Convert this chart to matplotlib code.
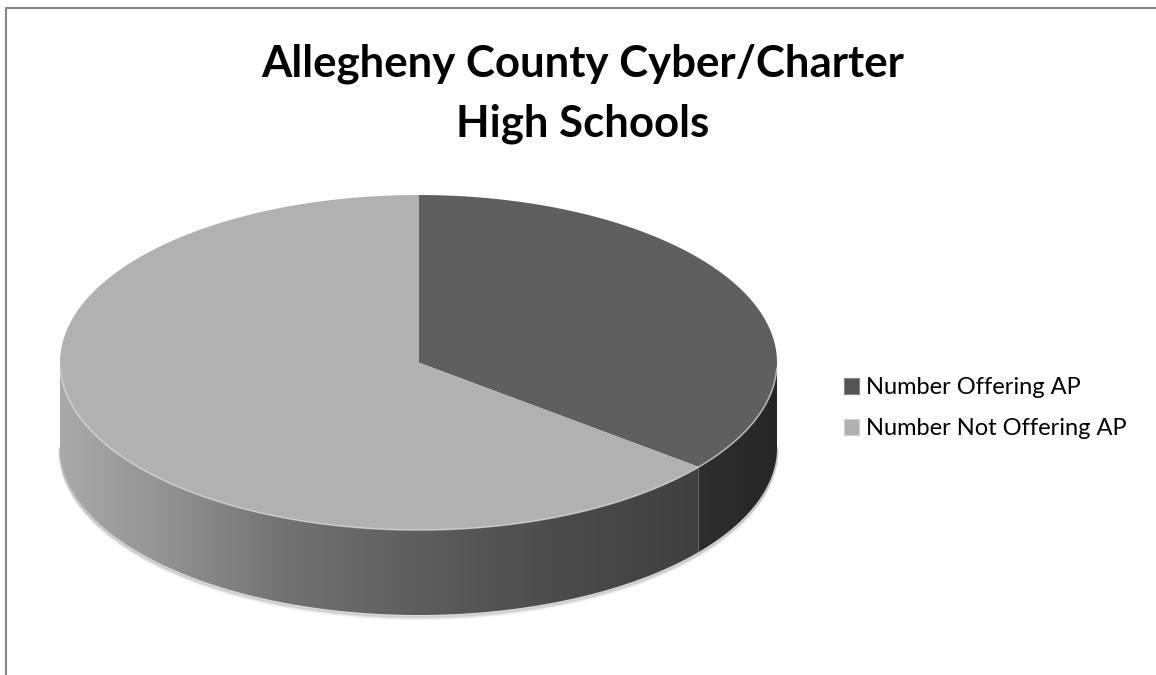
import numpy as np
import matplotlib
matplotlib.use('Agg')
import matplotlib.pyplot as plt
from matplotlib.patches import Polygon, Patch
from matplotlib.colors import LinearSegmentedColormap

# data
labels = ['Number Offering AP', 'Number Not Offering AP']
values = [5, 9]
title_lines = ['Allegheny County Cyber/Charter', 'High Schools']

top_colors = ['#5f5f5f', '#b1b1b1']

# pie geometry in pixels (figure is 1156 x 675)
CX, CY = 418.5, 362.5
RX, RY = 358.5, 167.5
DEPTH = 85

fig = plt.figure(figsize=(11.56, 6.75), dpi=100)
ax = fig.add_axes([0, 0, 1, 1])
ax.set_xlim(0, 1156)
ax.set_ylim(675, 0)
ax.axis('off')


def arc(t0, t1, n=200, dy=0.0):
    t = np.radians(np.linspace(t0, t1, n))
    return np.column_stack([CX + RX * np.cos(t), CY - RY * np.sin(t) + dy])


# slice angles, start at 12 o'clock and go clockwise
fracs = np.array(values) / sum(values)
bounds = []
start = 90.0
for f in fracs:
    end = start - 360 * f
    bounds.append((end, start))
    start = end

# soft shadow under the pie
for k, a in enumerate([0.10, 0.07, 0.05, 0.03]):
    pts = arc(180, 360, dy=DEPTH + 1 + k)
    ax.plot(pts[:, 0], pts[:, 1], color='#000000', alpha=a, lw=2, zorder=1)

# side walls (only the front half of the pie is visible)
side_maps = [
    LinearSegmentedColormap.from_list('dk', ['#2e2e2e', '#262626']),
    LinearSegmentedColormap.from_list(
        'lt', [(0.0, '#a9a9a9'), (0.15, '#959595'), (0.35, '#727272'),
               (0.6, '#5a5a5a'), (0.8, '#4a4a4a'), (1.0, '#404040')]),
]
grad = np.linspace(0, 1, 256).reshape(1, -1)
for (t0, t1), cmap in zip(bounds, side_maps):
    a0 = t0 % 360
    a1 = a0 + (t1 - t0)
    lo = max(a0, 180)
    hi = min(a1, 360)
    if hi <= lo:
        lo = max(a0 - 360, 180)
        hi = min(a1 - 360, 360)
        if hi <= lo:
            continue
    top = arc(lo, hi)
    bot = arc(hi, lo, dy=DEPTH)
    poly = Polygon(np.vstack([top, bot]), closed=True, facecolor='none',
                   edgecolor='none', zorder=2)
    ax.add_patch(poly)
    x0, x1 = top[:, 0].min(), top[:, 0].max()
    im = ax.imshow(grad, cmap=cmap, aspect='auto', interpolation='bilinear',
                   extent=(x0, x1, CY + RY + DEPTH + 2, CY - 2), zorder=2)
    im.set_clip_path(poly)

# top faces
for (t0, t1), col in zip(bounds, top_colors):
    pts = np.vstack([[CX, CY], arc(t0, t1)])
    ax.add_patch(Polygon(pts, closed=True, facecolor=col, edgecolor='none',
                         zorder=3))

# light rim on the front edge of the top
rim = arc(182, 358)
ax.plot(rim[:, 0], rim[:, 1], color='#d6d6d6', lw=1.2, alpha=0.7, zorder=4)

ax.set_ylim(675, 0)
ax.set_xlim(0, 1156)

# chart frame (only top and left show)
ax.plot([6, 6, 1156], [675, 8, 8], color='#868686', lw=1.5, zorder=5)

for line, yb in zip(title_lines, [76, 136]):
    ax.text(583, yb, line, ha='center', va='baseline', fontsize=31.5,
            fontweight='bold', family='Lato', zorder=6)

handles = [Patch(facecolor='#555555', edgecolor='#858585', lw=0.8),
           Patch(facecolor='#b0b0b0', edgecolor='#d2d2d2', lw=0.8)]
ax.legend(handles, labels, loc='upper left', bbox_to_anchor=(844, 377),
          bbox_transform=ax.transData, frameon=False, borderpad=0,
          borderaxespad=0, prop={'family': 'Lato', 'size': 17},
          handlelength=0.64, handleheight=0.64, handletextpad=0.3,
          labelspacing=0.85)

fig.savefig('out.png', dpi=100)
